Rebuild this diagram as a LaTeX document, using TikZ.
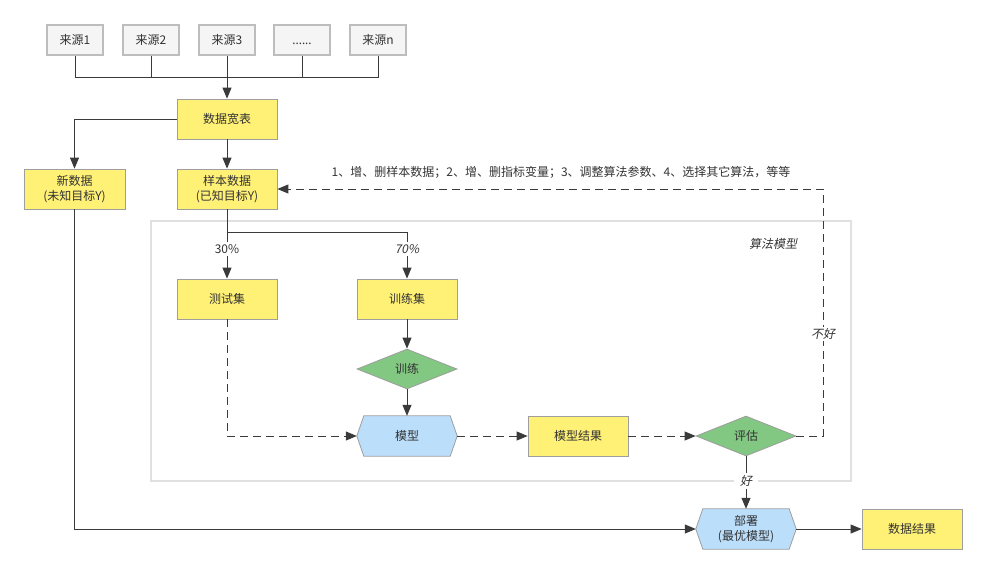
\documentclass[tikz,border=0pt]{standalone}
\usepackage{fontspec}
\setmainfont{Noto Sans CJK SC}
\newfontfamily\cjkit[FakeSlant=0.2]{Noto Sans CJK SC}
\newfontfamily\latinf{Noto Sans}
\usetikzlibrary{arrows.meta,calc,backgrounds,shapes.geometric}
\definecolor{txt}{HTML}{333333}
\definecolor{ln}{HTML}{3A3A3A}
\definecolor{yel}{HTML}{FFF176}
\definecolor{grn}{HTML}{82C782}
\definecolor{blu}{HTML}{BBDEFB}
\definecolor{srcf}{HTML}{F5F5F5}
\definecolor{srcd}{HTML}{BDBDBD}
\definecolor{bd}{HTML}{9E9E9E}
\definecolor{cont}{HTML}{E0E0E0}
\tikzset{
  base/.style={inner sep=0pt, align=center, text=txt, font=\fontsize{12}{15}\selectfont},
  srcbox/.style={base, draw=srcd, fill=srcf, line width=1.2pt, minimum width=56pt, minimum height=30pt},
  ybox/.style={base, draw=bd, fill=yel, line width=0.8pt, minimum width=100pt, minimum height=40pt},
  gdia/.style={base, draw=bd, fill=grn, line width=0.8pt, diamond, aspect=2.5, minimum width=100pt, minimum height=40pt},
  hexa/.style={base, minimum width=100pt, minimum height=40pt},
  conn/.style={draw=ln, line width=1pt},
  arr/.style={conn, -{Triangle[length=11pt,width=9pt]}},
  darr/.style={arr, dash pattern=on 8pt off 5pt},
  lbl/.style={base, fill=white, inner sep=2pt},
  ilbl/.style={lbl, font=\fontsize{12}{15}\selectfont\cjkit},
}
\newcommand\hexshape[1]{%
  \filldraw[draw=bd, fill=blu, line width=0.8pt] (#1.west) -- ($(#1.north west)+(7,0)$) -- ($(#1.north east)+(-7,0)$) -- (#1.east) -- ($(#1.south east)+(-7,0)$) -- ($(#1.south west)+(7,0)$) -- cycle;}
\begin{document}
\begin{tikzpicture}[x=1pt,y=-1pt]
\useasboundingbox (0,0) rectangle (987,574);
% container
\draw[draw=cont, line width=1.2pt] (151,221) rectangle (851,481);
\node[base, font=\fontsize{12}{15}\selectfont\cjkit] (algo) at (773,244) {算法模型};
% sources
\node[srcbox] (s1) at (75,40) {来源1};
\node[srcbox] (s2) at (151,40) {来源2};
\node[srcbox] (s3) at (227,40) {来源3};
\node[srcbox] (s4) at (302,40) {\vphantom{来}\latinf ......};
\node[srcbox] (s5) at (378,40) {来源n};
\coordinate (bus) at (227,77);
% boxes
\node[ybox] (wide) at (227,119) {数据宽表};
\node[ybox, minimum width=101pt] (newd) at (74.5,189) {新数据\\(未知目标Y)};
\node[ybox] (samp) at (227,189) {样本数据\\(已知目标Y)};
\node[ybox] (test) at (227,299) {测试集};
\node[ybox] (train) at (407,299) {训练集};
\node[gdia] (trn) at (407,369) {训练};
\node[hexa] (model) at (407,436) {模型};
\node[ybox] (mres) at (578,436) {模型结果};
\node[gdia] (eval) at (746,436) {评估};
\node[hexa] (dep) at (746,529) {部署\\(最优模型)};
\node[ybox] (dres) at (912,529) {数据结果};
\begin{scope}[on background layer]
\hexshape{model}
\hexshape{dep}
\end{scope}
% connectors top
\draw[conn] (s1.south) |- (bus);
\draw[conn] (s2.south) |- (bus);
\draw[conn] (s4.south) |- (bus);
\draw[conn] (s5.south) |- (bus);
\draw[arr] (s3.south) -- (wide.north);
\draw[arr] (wide.west) -| (newd.north);
\draw[arr] (wide.south) -- (samp.north);
% split
\coordinate (split) at (227,232);
\draw[conn] (samp.south) -- (split);
\draw[arr] (split) -- (test.north);
\node[lbl] (p30) at (227,249) {30\%};
\draw[arr] (split) -| (train.north);
\node[ilbl] (p70) at (407,249) {70\%};
\draw[arr] (train.south) -- (trn.north);
\draw[arr] (trn.south) -- (model.north);
% dashed flow
\draw[darr] (test.south) |- (model.west);
\draw[darr] (model.east) -- (mres.west);
\draw[darr] (mres.east) -- (eval.west);
\coordinate (fb) at (823,189);
\draw[darr] (eval.east) -| (fb) -- (samp.east);
\node[ilbl, fill=white, inner sep=1pt] (bad) at (823,334) {不好};
\node[base, font=\fontsize{12}{15}\selectfont] (note) at (561,172) {1、增、删样本数据；2、增、删指标变量；3、调整算法参数、4、选择其它算法，等等};
% good
\draw[arr] (eval.south) -- (dep.north);
\node[ilbl, inner xsep=6pt] (good) at (746,481) {好};
% bottom
\draw[arr] (newd.south) |- (dep.west);
\draw[arr] (dep.east) -- (dres.west);
\end{tikzpicture}
\end{document}
